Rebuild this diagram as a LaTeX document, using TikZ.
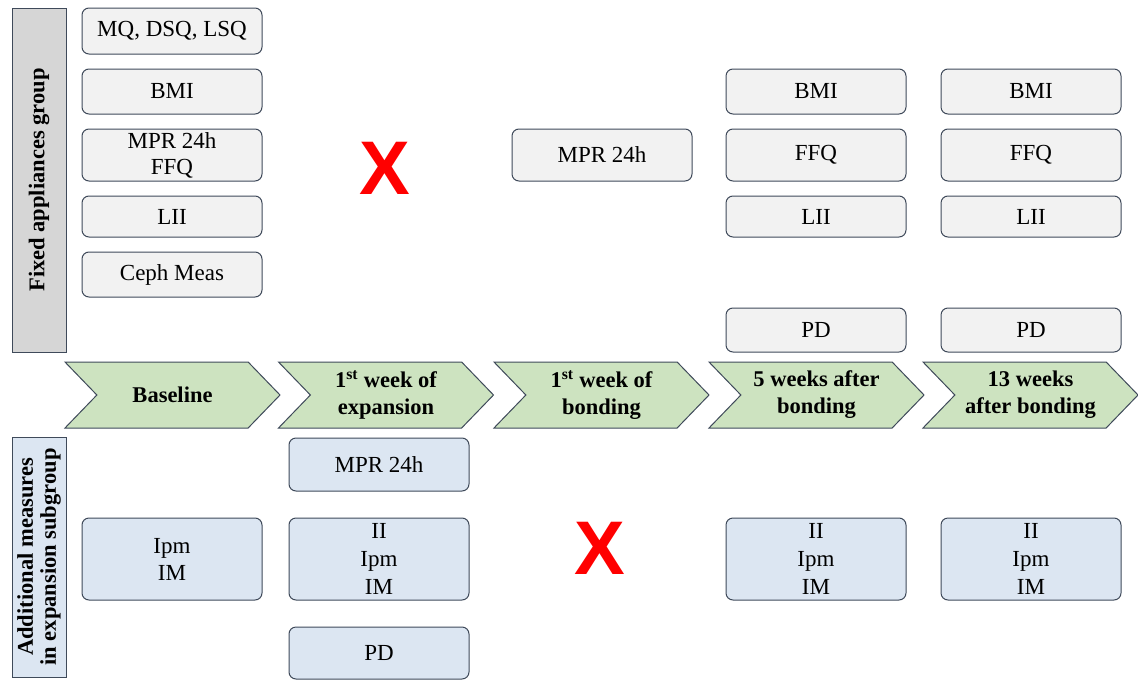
\documentclass[tikz,border=0pt]{standalone}
\usepackage{fontspec}
\setmainfont{Liberation Serif}
\newfontfamily\crossfont{Liberation Sans}
\usetikzlibrary{shapes.symbols}
\definecolor{boxline}{HTML}{3F4A5A}
\definecolor{boxgray}{HTML}{F2F2F2}
\definecolor{boxblue}{HTML}{DCE6F2}
\definecolor{phasegreen}{HTML}{CDE3C0}
\definecolor{labelgray}{HTML}{D6D6D6}
\definecolor{crossred}{HTML}{FF0000}
\tikzset{
  font=\fontsize{23}{26}\selectfont,
  % Measure box, fixed appliances group
  mbox/.style={draw=boxline, line width=1pt, fill=boxgray, rounded corners=7pt,
    minimum width=180, minimum height=#1, align=center, inner sep=0pt},
  % Measure box, expansion subgroup
  abox/.style={mbox=#1, fill=boxblue},
  % Time point chevron
  phase/.style={draw=boxline, line width=1pt, fill=phasegreen, shape=signal,
    signal from=west, signal to=east, signal pointer angle=92,
    minimum width=215, minimum height=66, inner sep=0pt, align=center,
    font=\fontsize{22.5}{27}\selectfont\bfseries},
  % Group label
  glabel/.style={draw=boxline, line width=1pt, rotate=90, minimum height=54,
    inner sep=0pt, align=center, font=\fontsize{22.5}{23}\selectfont\bfseries},
  % Not measured
  cross/.style={text=crossred, font=\fontsize{76}{76}\selectfont\crossfont\bfseries},
}

\begin{document}
\begin{tikzpicture}[x=1pt, y=-1pt]
  \useasboundingbox (0,0) rectangle (1138,680);

  % group labels
  \node[glabel, fill=labelgray, minimum width=344] (fixed) at (39,180)
    {Fixed appliances group};
  \node[glabel, fill=boxblue, minimum width=240] (extra) at (39,557)
    {Additional measures\\in expansion subgroup};

  % time line
  \node[phase] (base) at (172.5,395) {Baseline};
  \node[phase] (expw) at (386,395) {1\textsuperscript{st} week of\\expansion};
  \node[phase] (bondw) at (601.5,395) {1\textsuperscript{st} week of\\bonding};
  \node[phase] (bond5) at (816.5,395) {5 weeks after\\bonding};
  \node[phase] (bond13) at (1030.5,395) {13 weeks\\after bonding};

  % fixed appliances group
  \node[mbox=46] (quest) at (172,31) {MQ, DSQ, LSQ};
  \node[mbox=45] (bmiA) at (172,91.5) {BMI};
  \node[mbox=52] (mprA) at (172,155) {MPR 24h\\FFQ};
  \node[mbox=41] (liiA) at (172,216.5) {LII};
  \node[mbox=45] (ceph) at (172,274.5) {Ceph Meas};

  \node[cross] (noA) at (385,168) {X};

  \node[mbox=52] (mprC) at (602,155) {MPR 24h};

  \node[mbox=45] (bmiD) at (816,91.5) {BMI};
  \node[mbox=52] (ffqD) at (816,155) {FFQ};
  \node[mbox=41] (liiD) at (816,216.5) {LII};
  \node[mbox=44] (pdD) at (816,330) {PD};

  \node[mbox=45] (bmiE) at (1031,91.5) {BMI};
  \node[mbox=52] (ffqE) at (1031,155) {FFQ};
  \node[mbox=41] (liiE) at (1031,216.5) {LII};
  \node[mbox=44] (pdE) at (1031,330) {PD};

  % expansion subgroup
  \node[abox=82, font=\fontsize{23}{27}\selectfont] (ipmA) at (172,559)
    {Ipm\\IM};
  \node[abox=53] (mprB) at (379,464.5) {MPR 24h};
  \node[abox=82, font=\fontsize{23}{28}\selectfont] (iiB) at (379,559)
    {II\\Ipm\\IM};
  \node[abox=52] (pdB) at (379,653) {PD};

  \node[cross] (noC) at (600,548) {X};

  \node[abox=82, font=\fontsize{23}{28}\selectfont] (iiD) at (816,559)
    {II\\Ipm\\IM};
  \node[abox=82, font=\fontsize{23}{28}\selectfont] (iiE) at (1031,559)
    {II\\Ipm\\IM};
\end{tikzpicture}
\end{document}
